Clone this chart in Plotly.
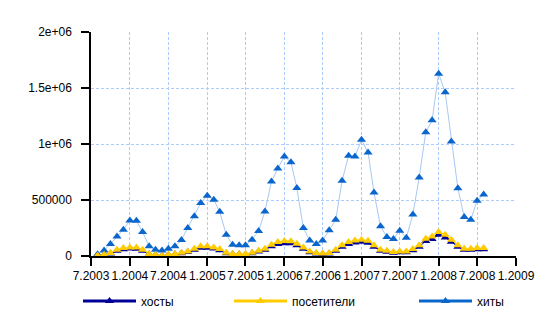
import pandas as pd
import plotly.graph_objects as go

# Monthly statistics, 8.2003 - 8.2008
months = pd.date_range("2003-08-01", "2008-08-01", freq="MS")

hits = [
    15000, 50000, 107000, 175000, 235000, 318000, 315000, 214000, 86000, 56000,
    50000, 65000, 86000, 143000, 250000, 354000, 473000, 538000, 503000, 396000,
    190000, 101000, 95000, 95000, 146000, 223000, 398000, 666000, 782000, 889000,
    836000, 607000, 250000, 139000, 107000, 139000, 229000, 324000, 672000, 896000,
    889000, 1038000, 925000, 568000, 265000, 170000, 152000, 226000, 163000, 371000,
    702000, 1104000, 1211000, 1628000, 1461000, 1023000, 604000, 348000, 324000, 494000,
    550000,
]

visitors = [
    5000, 12000, 27000, 56000, 71000, 77000, 77000, 56000, 18000, 12000,
    3000, 12000, 18000, 29000, 41000, 65000, 86000, 86000, 77000, 62000,
    29000, 18000, 18000, 18000, 29000, 47000, 65000, 101000, 125000, 135000,
    131000, 110000, 77000, 41000, 27000, 23000, 27000, 56000, 95000, 125000,
    139000, 146000, 137000, 95000, 56000, 47000, 36000, 41000, 41000, 62000,
    95000, 154000, 175000, 214000, 190000, 146000, 95000, 65000, 65000, 71000,
    71000,
]

hosts = [
    4000, 10000, 22000, 46000, 60000, 66000, 65000, 47000, 15000, 10000,
    2000, 10000, 15000, 24000, 35000, 55000, 74000, 74000, 66000, 52000,
    24000, 15000, 15000, 14000, 24000, 40000, 55000, 88000, 108000, 114000,
    113000, 95000, 65000, 34000, 22000, 18000, 22000, 47000, 82000, 108000,
    120000, 127000, 118000, 82000, 47000, 39000, 30000, 34000, 34000, 52000,
    82000, 134000, 152000, 190000, 166000, 127000, 82000, 56000, 56000, 60000,
    61000,
]

tick_dates = ["2003-07-01", "2004-01-01", "2004-07-01", "2005-01-01", "2005-07-01",
              "2006-01-01", "2006-07-01", "2007-01-01", "2007-07-01", "2008-01-01",
              "2008-07-01", "2009-01-01"]
tick_text = ["7.2003", "1.2004", "7.2004", "1.2005", "7.2005", "1.2006",
             "7.2006", "1.2007", "7.2007", "1.2008", "7.2008", "1.2009"]

y_ticks = [0, 500000, 1000000, 1500000, 2000000]
y_text = ["0", "500000", "1e+06", "1.5e+06", "2e+06"]

names = ["хосты", "посетители", "хиты"]
FONT = "Liberation Sans, Arial, sans-serif"

HIT_MARK = "#0a66cc"
HIT_LINE = "#a9c8f2"
VIS_COL = "#ffcc00"
HOST_COL = "#000099"

fig = go.Figure()

# data series (drawn back to front)
fig.add_trace(go.Scatter(
    x=months, y=hits, mode="lines+markers", showlegend=False, cliponaxis=False,
    line=dict(color=HIT_LINE, width=1),
    marker=dict(symbol="triangle-up", size=8, color=HIT_MARK),
))
fig.add_trace(go.Scatter(
    x=months, y=hosts, mode="lines+markers", showlegend=False, cliponaxis=False,
    line=dict(color=HOST_COL, width=1),
    marker=dict(symbol="triangle-up", size=8, color=HOST_COL),
))
fig.add_trace(go.Scatter(
    x=months, y=visitors, mode="lines+markers", showlegend=False, cliponaxis=False,
    line=dict(color=VIS_COL, width=1),
    marker=dict(symbol="triangle-up", size=8, color=VIS_COL),
))

# legend entries, one legend box each
legend_cols = [HOST_COL, VIS_COL, HIT_MARK]
legend_ids = ["legend", "legend2", "legend3"]
legend_x = [86, 237, 422]
for name, col, lid in zip(names, legend_cols, legend_ids):
    fig.add_trace(go.Scatter(
        x=[None], y=[None], mode="lines+markers", name=name, legend=lid,
        line=dict(color=col, width=3),
        marker=dict(symbol="triangle-up", size=8, color=col),
    ))

L, R, T, B = 91, 43, 32, 72
W, H = 559, 328
pw = W - L - R
ph = H - T - B

legend_common = dict(
    orientation="h", xanchor="left", yanchor="middle",
    y=(H - B - 301) / ph, itemwidth=53, bgcolor="rgba(0,0,0,0)",
    font=dict(family=FONT, size=12, color="#000"),
)
layout_legends = {}
for lid, lx in zip(legend_ids, legend_x):
    layout_legends[lid] = dict(legend_common, x=(lx - L - 8) / pw)

axis_common = dict(
    tickmode="array",
    showgrid=True, gridcolor="#aaccff", griddash="3px,2px", gridwidth=1,
    showline=True, linecolor="#000", linewidth=1.5,
    ticks="outside", ticklen=8, tickcolor="#000", tickwidth=1.5,
    zeroline=False, tickfont=dict(family=FONT, size=12, color="#000"),
)

fig.update_layout(
    width=W, height=H,
    margin=dict(l=L, r=R, t=T, b=B, pad=0),
    paper_bgcolor="white", plot_bgcolor="white",
    font=dict(family=FONT, size=12, color="#000"),
    xaxis=dict(
        axis_common, type="date", range=["2003-07-01", "2009-01-01"],
        tickvals=tick_dates, ticktext=tick_text, tickangle=0,
    ),
    yaxis=dict(
        axis_common, range=[0, 2000000],
        tickvals=y_ticks, ticktext=y_text, ticklabelstandoff=7,
    ),
    **layout_legends,
)

fig.write_html("out.html")
